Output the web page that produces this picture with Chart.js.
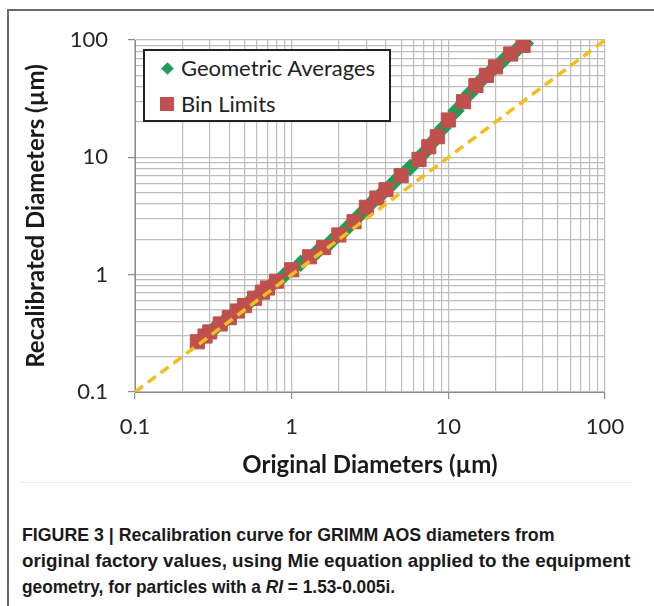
<!DOCTYPE html>
<html>
<head>
<meta charset="utf-8">
<script src="https://cdn.jsdelivr.net/npm/chart.js@4.4.0/dist/chart.umd.min.js"></script>
<style>
    html, body { margin: 0; padding: 0; background: #fff; }
    #page { position: relative; width: 654px; height: 606px; overflow: hidden; }
    #frameTop { position: absolute; left: 8px; top: 9px; width: 646px; height: 2px; background: #6a6a6a; }
    #frameLeft { position: absolute; left: 7px; top: 9px; width: 2px; height: 597px; background: #6a6a6a; }
    #rule { position: absolute; left: 20px; top: 482px; width: 612px; height: 1px; background: #ececec; }
    #chartBox { position: absolute; left: 0; top: 0; width: 654px; height: 480px; }
    #legend {
        position: absolute; left: 143px; top: 49px; width: 244px; height: 69px;
        border: 2px solid #222; background: #fff;
        font-family: Lato, sans-serif; font-size: 22px; color: #222;
    }
    .legend-item { position: absolute; left: 0; height: 26px; line-height: 26px; }
    .legend-item .marker { position: absolute; }
    .legend-item .text { position: absolute; left: 36px; white-space: nowrap; }
    #caption {
        position: absolute; left: 22px; top: 522px; width: 700px;
        font-family: "Liberation Sans Narrow", "Liberation Sans", sans-serif;
        font-weight: bold; font-size: 19px; line-height: 26px; color: #1a1a1a;
        white-space: nowrap;
    }
    #caption span { display: block; transform-origin: left top; }
</style>
</head>
<body>
<div id="page">
    <div id="frameTop"></div>
    <div id="frameLeft"></div>
    <div id="chartBox"><canvas id="calibChart" width="654" height="480"></canvas></div>
    <div id="legend"></div>
    <div id="rule"></div>
    <div id="caption">
        <span style="transform: scaleX(0.935)">FIGURE 3 | Recalibration curve for GRIMM AOS diameters from</span>
        <span style="transform: scaleX(0.99)">original factory values, using Mie equation applied to the equipment</span>
        <span style="transform: scaleX(0.91)">geometry, for particles with a <i>RI</i> = 1.53-0.005i.</span>
    </div>
</div>
<script>
// Bin limits (original factory diameters, µm) and their recalibrated values
const binOriginal = [0.25, 0.28, 0.30, 0.35, 0.40, 0.45, 0.50, 0.58, 0.65, 0.70, 0.80, 1.0, 1.3, 1.6, 2.0,
    2.5, 3.0, 3.5, 4.0, 5.0, 6.5, 7.5, 8.5, 10, 12.5, 15, 17.5, 20, 25, 30];
const binRecalibrated = [0.268, 0.30, 0.325, 0.38, 0.43, 0.49, 0.545, 0.63, 0.71, 0.77, 0.88, 1.10, 1.42, 1.70, 2.18,
    2.83, 3.75, 4.5, 5.3, 7.0, 9.6, 12.3, 15.0, 20.8, 29.8, 41, 50, 59, 76, 90];

// Geometric averages of consecutive bins
const avgOriginal = [0.265, 0.29, 0.324, 0.374, 0.424, 0.474, 0.539, 0.614, 0.675, 0.748, 0.894, 1.14, 1.44, 1.79,
    2.24, 2.74, 3.24, 3.74, 4.47, 5.70, 6.98, 7.98, 9.22, 11.18, 13.69, 16.2, 18.71, 22.36, 27.39, 30.98];
const avgRecalibrated = [0.284, 0.312, 0.351, 0.404, 0.459, 0.517, 0.586, 0.669, 0.739, 0.823, 0.984, 1.25, 1.55, 1.92,
    2.48, 3.26, 4.11, 4.88, 6.09, 8.19, 10.9, 13.6, 17.7, 24.9, 35.0, 45.3, 54.3, 66.9, 82.7, 93.5];

// 1:1 reference line
const identityLine = [0.1, 100];

const majorTicks = [0.1, 1, 10, 100];
const tickLabels = ['0.1', '1', '10', '100'];

const toPoints = (xs, ys) => xs.map((x, i) => ({ x: x, y: ys[i] }));

function majorIndex(v) {
    return majorTicks.findIndex(m => Math.abs(v - m) < m * 1e-6);
}

// grid at 1..9 of every decade between the major ticks
function logGrid(scale) {
    const ticks = [];
    for (let d = 0; d < majorTicks.length - 1; d++) {
        for (let k = 1; k < 10; k++) {
            ticks.push({ value: majorTicks[d] * k });
        }
    }
    ticks.push({ value: majorTicks[majorTicks.length - 1] });
    scale.ticks = ticks;
}

const gridColor = '#bdbdbd';
const axisColor = '#8c8c8c';
const tickFont = { family: 'Lato, sans-serif', size: 22 };
const titleFont = { family: 'Lato, sans-serif', size: 24, weight: 'bold' };

const datasets = [
    {
        label: 'One to one',
        data: toPoints(identityLine, identityLine),
        showLine: true,
        borderColor: '#f3be1c',
        borderWidth: 3.5,
        borderDash: [10, 6],
        pointRadius: 0,
        order: 0
    },
    {
        label: 'Bin Limits',
        data: toPoints(binOriginal, binRecalibrated),
        backgroundColor: '#c0504d',
        borderColor: '#c0504d',
        pointStyle: 'rect',
        pointRadius: 10,
        borderWidth: 1,
        order: 1
    },
    {
        label: 'Geometric Averages',
        data: toPoints(avgOriginal, avgRecalibrated),
        showLine: true,
        borderColor: '#1f9d58',
        backgroundColor: '#1f9d58',
        borderWidth: 4,
        pointStyle: 'rectRot',
        pointRadius: 6,
        order: 2
    }
];

const chart = new Chart(document.getElementById('calibChart'), {
    type: 'scatter',
    data: { datasets: datasets },
    options: {
        responsive: false,
        animation: false,
        layout: { padding: { top: 40, right: 49, left: 0, bottom: 0 } },
        plugins: {
            legend: { display: false },
            tooltip: { enabled: false }
        },
        scales: {
            x: {
                type: 'logarithmic',
                min: 0.1,
                max: 100,
                afterBuildTicks: logGrid,
                afterFit: s => { s.height = 88; },
                grid: {
                    color: gridColor,
                    lineWidth: 1.2,
                    tickLength: 7,
                    tickColor: c => majorIndex(c.tick.value) >= 0 ? axisColor : 'transparent'
                },
                border: { color: axisColor, width: 1 },
                ticks: {
                    autoSkip: false,
                    maxRotation: 0,
                    padding: 15,
                    color: '#262626',
                    font: tickFont,
                    callback: v => { const i = majorIndex(v); return i >= 0 ? tickLabels[i] : ''; }
                },
                title: {
                    display: true,
                    text: 'Original Diameters (µm)',
                    color: '#1a1a1a',
                    font: titleFont,
                    padding: { top: 0, bottom: 0 }
                }
            },
            y: {
                type: 'logarithmic',
                min: 0.1,
                max: 100,
                afterBuildTicks: logGrid,
                afterFit: s => { s.width = 135; },
                grid: {
                    color: gridColor,
                    lineWidth: 1.2,
                    tickLength: 7,
                    tickColor: c => majorIndex(c.tick.value) >= 0 ? axisColor : 'transparent'
                },
                border: { color: axisColor, width: 1 },
                ticks: {
                    autoSkip: false,
                    padding: 20,
                    color: '#262626',
                    font: tickFont,
                    callback: v => { const i = majorIndex(v); return i >= 0 ? tickLabels[i] : ''; }
                },
                title: {
                    display: true,
                    text: 'Recalibrated Diameters (µm)',
                    color: '#1a1a1a',
                    font: titleFont,
                    padding: { top: 22, bottom: 0 }
                }
            }
        }
    }
});

// legend box built from the dataset styles
const legendBox = document.getElementById('legend');
const legendOrder = ['Geometric Averages', 'Bin Limits'];
legendOrder.forEach((name, i) => {
    const ds = chart.data.datasets.find(d => d.label === name);
    const item = document.createElement('div');
    item.className = 'legend-item';
    item.style.top = (4 + i * 36) + 'px';
    item.style.width = '100%';

    const marker = document.createElement('div');
    marker.className = 'marker';
    if (ds.pointStyle === 'rectRot') {
        marker.style.cssText = 'left:18px;top:9px;width:9px;height:9px;transform:rotate(45deg);background:' + ds.backgroundColor;
    } else {
        marker.style.cssText = 'left:15px;top:6px;width:14px;height:14px;background:' + ds.backgroundColor;
    }
    const text = document.createElement('div');
    text.className = 'text';
    text.textContent = ds.label;

    item.appendChild(marker);
    item.appendChild(text);
    legendBox.appendChild(item);
});
</script>
</body>
</html>
